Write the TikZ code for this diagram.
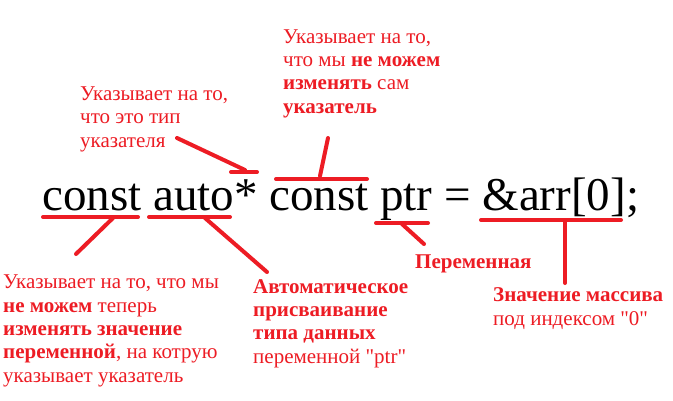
\documentclass[tikz,border=0pt]{standalone}
\usepackage{fontspec}
\setmainfont{Liberation Serif}[Ligatures=TeXOff]
\definecolor{pred}{RGB}{237,28,36}
\begin{document}
\begin{tikzpicture}[x=1pt,y=-1pt,
  lbl/.style={anchor=base west, inner sep=0pt, align=left, text=pred,
    font=\fontsize{21}{23.3}\selectfont},
  redline/.style={draw=pred, line width=4pt, line cap=round}]
\useasboundingbox (0,0) rectangle (673,400);
\fill[white] (0,0) rectangle (673,400);
% code line
\node[anchor=base west, inner sep=0pt, font=\fontsize{47}{50}\selectfont] (code) at (42,210) {const auto* const ptr = \&arr[0];};
% labels (anchor = baseline of last line)
\node[lbl] (l1) at (80,147) {Указывает на то,\\что это тип\\указателя};
\node[lbl] (l2) at (283,113) {Указывает на то,\\что мы \textbf{не можем}\\\textbf{изменять} сам\\\textbf{указатель}};
\node[lbl] (l3) at (3,382) {Указывает на то, что мы\\\textbf{не можем} теперь\\\textbf{изменять значение}\\\textbf{переменной}, на котрую\\указывает указатель};
\node[lbl] (l4) at (253,363) {\textbf{Автоматическое}\\\textbf{присваивание}\\\textbf{типа данных}\\переменной "ptr"};
\node[lbl] (l5) at (415,268) {\textbf{Переменная}};
\node[lbl] (l6) at (493,325) {\textbf{Значение массива}\\под индексом "0"};
% marks
\coordinate (c1a) at (43,217); \coordinate (c1b) at (138,217);
\coordinate (c2a) at (149,217); \coordinate (c2b) at (230,217);
\coordinate (c3a) at (231,172); \coordinate (c3b) at (257,172);
\coordinate (c4a) at (276,179); \coordinate (c4b) at (367,179);
\coordinate (c5a) at (376,223); \coordinate (c5b) at (428,223);
\coordinate (c6a) at (481,220); \coordinate (c6b) at (621,220);
\draw[redline] (c1a) -- (c1b);
\draw[redline] (c2a) -- (c2b);
\draw[redline] (c3a) -- (c3b);
\draw[redline] (c4a) -- (c4b);
\draw[redline] (c5a) -- (c5b);
\draw[redline] (c6a) -- (c6b);
% connectors
\coordinate (e1) at (113,218); \coordinate (f1) at (76,254);
\coordinate (e2) at (205,218); \coordinate (f2) at (267,272);
\coordinate (e3) at (245,170); \coordinate (f3) at (177,138);
\coordinate (e4) at (320,176); \coordinate (f4) at (328,138);
\coordinate (e5) at (402,224); \coordinate (f5) at (424,244);
\coordinate (e6) at (565,220); \coordinate (f6) at (565,283);
\draw[redline] (e1) -- (f1);
\draw[redline] (e2) -- (f2);
\draw[redline] (e3) -- (f3);
\draw[redline] (e4) -- (f4);
\draw[redline] (e5) -- (f5);
\draw[redline] (e6) -- (f6);
\end{tikzpicture}
\end{document}
